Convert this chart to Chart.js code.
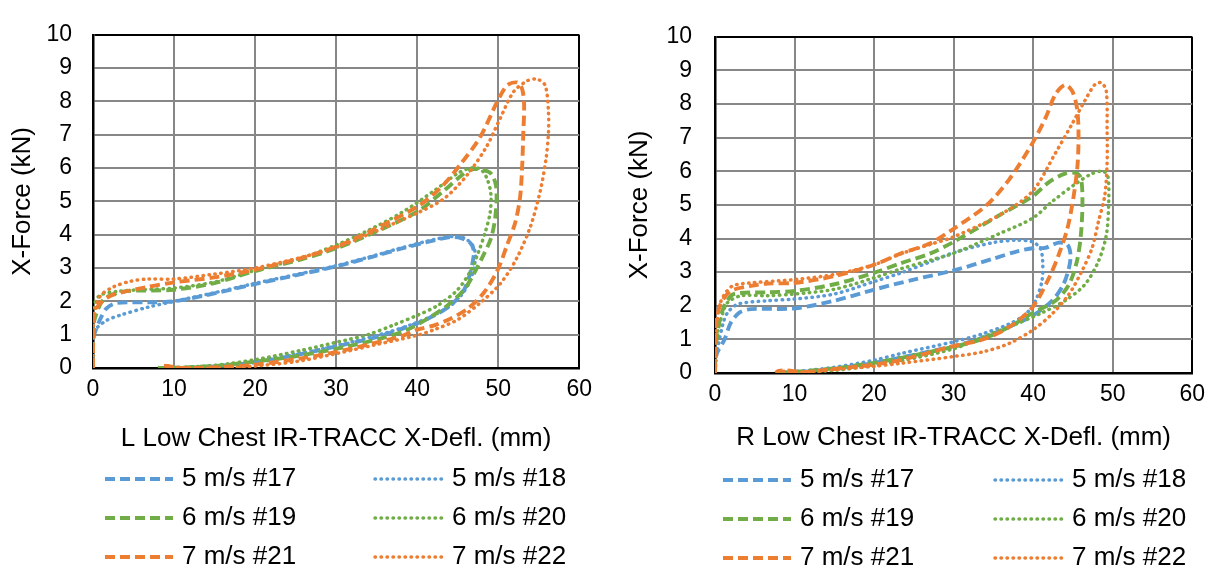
<!DOCTYPE html>
<html>
<head>
<meta charset="utf-8">
<script src="https://cdn.jsdelivr.net/npm/chart.js@4/dist/chart.umd.min.js"></script>
<style>
  html, body { margin: 0; padding: 0; background: #fff; }
  #wrap { position: relative; width: 1213px; height: 569px; overflow: hidden; }
  canvas { position: absolute; top: 0; }
  #cL { left: 0; }
  #cR { left: 600px; }
</style>
</head>
<body>
<div id="wrap">
  <canvas id="cL" width="600" height="569"></canvas>
  <canvas id="cR" width="613" height="569"></canvas>
</div>
<script>
// Test labels (legend order) and axis labels
const seriesLabels = ['5 m/s #17', '5 m/s #18', '6 m/s #19', '6 m/s #20', '7 m/s #21', '7 m/s #22'];
const xTitleL = 'L Low Chest IR-TRACC X-Defl. (mm)';
const xTitleR = 'R Low Chest IR-TRACC X-Defl. (mm)';
const yTitle = 'X-Force (kN)';
const xRange = [0, 60, 10];
const yRange = [0, 10, 1];

// Left lower chest: [deflection mm, force kN], loading then unloading
const L17 = [[0,0],[0,0.5],[0.1,0.95],[0.9,1.47],[1.7,1.8],[2.9,1.95],[6.7,1.97],[10,2.0],[15,2.24],[20,2.52],[25,2.78],[30,3.05],[33.9,3.3],[38,3.58],[42.1,3.83],[44.1,3.93],[45.4,3.9],[46.6,3.74],[47,3.5],[46.8,3.11],[46.4,2.73],[45.8,2.35],[44.5,1.96],[42.9,1.68],[40.5,1.39],[37.2,1.1],[33.9,0.86],[30,0.65],[25.7,0.42],[20,0.17],[15,0.05],[11,0],[9.5,0]];
const L18 = [[0,0],[0,0.6],[0.3,1.14],[1.7,1.43],[3.3,1.58],[6.7,1.82],[10,2.0],[15,2.26],[20,2.54],[25,2.8],[30,3.07],[33.9,3.32],[38,3.6],[42,3.85],[44.5,3.95],[45.8,3.9],[46.8,3.7],[47.2,3.4],[47,3.0],[46.5,2.6],[45.5,2.2],[44,1.85],[42,1.58],[39.5,1.32],[36.5,1.08],[33,0.85],[30,0.67],[25.7,0.45],[20,0.2],[15,0.06],[10.5,0],[9,0]];
const L19 = [[0,0],[0,0.8],[0.1,1.37],[1.3,2.05],[3.7,2.29],[10,2.35],[15,2.55],[20,2.91],[25.7,3.26],[30,3.59],[33.9,3.98],[40,4.69],[43.3,5.32],[45.8,5.84],[47,5.97],[48.2,5.94],[49.1,5.84],[49.7,5.51],[49.8,5.03],[49.6,4.45],[49.1,3.88],[48,3.3],[47,2.83],[45.8,2.35],[43.7,1.87],[41.3,1.48],[38.8,1.15],[35.9,0.91],[31.8,0.67],[25.7,0.38],[20,0.19],[15,0.06],[10,0.01],[8,0]];
const L20 = [[0,0],[0,1.0],[0.3,2.0],[1,2.2],[3,2.3],[6,2.35],[10,2.4],[15,2.58],[20,2.93],[25.7,3.3],[30,3.69],[33.9,4.12],[38,4.65],[42.1,5.32],[45,5.84],[46.6,6.0],[47.8,5.97],[48.6,5.7],[49.1,5.22],[49,4.65],[48.4,4.07],[47.6,3.5],[46.6,2.92],[45,2.35],[42.5,1.87],[40,1.58],[37.1,1.29],[33.9,1.0],[30,0.77],[25.7,0.53],[20,0.25],[15,0.08],[10,0.01],[7.8,0]];
const L21 = [[0,0],[0,1.0],[0.1,1.6],[0.9,1.95],[2.5,2.2],[6.7,2.43],[10,2.57],[15,2.72],[20,2.95],[25.7,3.3],[30,3.64],[33.9,4.07],[40,4.84],[42.9,5.41],[45.4,6.13],[47.8,6.94],[49.9,8.0],[51.1,8.48],[52.3,8.57],[52.95,8.38],[53.2,7.9],[53.1,7.04],[52.95,5.99],[52.7,5.12],[52.1,4.36],[51.1,3.69],[49.9,2.92],[48.2,2.25],[46.2,1.77],[44.1,1.48],[42.1,1.28],[40,1.15],[38,0.95],[33.9,0.7],[30,0.48],[25.7,0.29],[20,0.1],[15,0.02],[11,0],[9.5,0.05],[8.6,0.07],[8.3,0]];
const L22 = [[0,0],[0,0.9],[0.1,1.5],[0.87,2.15],[2.5,2.43],[4.6,2.6],[6.7,2.67],[10,2.67],[15,2.82],[20,3.0],[25.7,3.32],[30,3.62],[33.9,4.0],[40,4.65],[43.3,5.08],[46.2,5.8],[48.6,6.66],[50.3,7.52],[51.9,8.29],[53.6,8.62],[54.8,8.67],[55.8,8.48],[56.2,7.71],[56.2,7.04],[55.9,6.27],[55.2,5.32],[54,4.26],[52.3,3.3],[50.3,2.54],[47.8,1.96],[45,1.45],[42.1,1.15],[40,0.98],[34.9,0.7],[30,0.43],[25,0.19],[20,0.06],[16,0],[10,0.02],[9,0.06],[8.5,0]];

// Right lower chest
const R17 = [[0,0],[0.1,0.5],[1.2,1.0],[2,1.5],[3.1,1.8],[4.5,1.9],[10,1.92],[15,2.15],[20,2.48],[25,2.78],[30,3.05],[35,3.4],[38,3.62],[40.2,3.72],[41.5,3.72],[43.2,3.88],[44.3,3.82],[44.7,3.51],[44.5,3.12],[43.8,2.63],[42.4,2.15],[39.9,1.7],[37,1.38],[33.7,1.05],[30,0.8],[23.4,0.46],[20,0.3],[15,0.12],[10,0.02],[8,0]];
const R18 = [[0,0],[0.1,0.3],[0.3,0.68],[1,1.46],[1.6,1.8],[2.9,2.05],[6.6,2.15],[10,2.2],[15,2.35],[20,2.72],[23.4,2.98],[27,3.3],[30,3.58],[35,3.88],[37.9,3.95],[39.9,3.9],[40.9,3.71],[41.2,3.32],[41.1,2.73],[40.3,2.15],[39.1,1.76],[37,1.46],[33.7,1.17],[30,0.93],[23.4,0.58],[20,0.38],[15,0.17],[10,0.04],[7.5,0]];
const R19 = [[0,0],[0.1,0.79],[0.7,1.67],[1.4,2.1],[2.4,2.35],[6.6,2.4],[10,2.44],[15,2.64],[20,2.98],[23.4,3.27],[27,3.55],[30,3.9],[35.8,4.7],[39.9,5.25],[42,5.68],[44,5.93],[45.3,5.95],[46,5.8],[46.2,5.07],[46,4.1],[45.5,3.32],[44.5,2.63],[42.8,2.15],[39.9,1.78],[37,1.37],[33.7,1.02],[30,0.78],[23.4,0.45],[20,0.3],[15,0.14],[10,0.03],[7.5,0]];
const R20 = [[0,0],[0.3,1.17],[1,1.8],[1.6,2.1],[3.3,2.3],[6.6,2.3],[10,2.35],[15,2.49],[20,2.83],[23.4,3.1],[27,3.35],[30,3.56],[35.8,4.15],[39.9,4.6],[42.4,5.1],[45.3,5.62],[47.4,5.93],[48.8,6.0],[49.4,5.85],[49.5,5.07],[49.2,4.1],[48.2,3.32],[46.5,2.63],[44,2.15],[41.2,1.8],[37.9,1.46],[33.7,1.07],[30,0.72],[23.4,0.36],[20,0.22],[15,0.08],[10,0.01],[8,0]];
const R21 = [[0,0],[0.1,1.36],[0.7,2.05],[2,2.44],[4.5,2.59],[6.6,2.66],[10,2.68],[15,2.88],[20,3.22],[23.4,3.56],[27,3.85],[30,4.29],[34.1,4.98],[37,5.76],[39.9,6.83],[41.6,7.61],[42.8,8.29],[44,8.57],[44.9,8.39],[45.5,7.9],[45.7,7.22],[45.6,6.24],[45.1,5.27],[44.3,4.29],[43.2,3.51],[42,2.83],[39.9,1.95],[37,1.37],[33.7,1.0],[30,0.8],[23.4,0.39],[20,0.25],[15,0.12],[11,0.03],[9,0.08],[8,0.06],[7.6,0]];
const R22 = [[0,0],[0.1,0.97],[0.5,1.95],[1.1,2.3],[2.2,2.59],[4.5,2.68],[10,2.78],[15,2.93],[20,3.22],[23.4,3.55],[27,3.82],[30,4.05],[35.8,4.7],[39.9,5.4],[42.8,6.54],[44.9,7.41],[46.5,8.1],[47.8,8.59],[48.6,8.63],[49.2,8.39],[49.3,7.22],[49.3,6.24],[49,5.27],[48.2,4.49],[47.4,3.71],[46.1,3.02],[44.5,2.34],[42.4,1.76],[39.9,1.27],[37,0.88],[33.7,0.63],[30,0.49],[23.4,0.29],[20,0.2],[15,0.1],[11,0.03],[8.5,0.05],[8,0]];

const seriesL = [L17, L18, L19, L20, L21, L22];
const seriesR = [R17, R18, R19, R20, R21, R22];

// Styling
const FONT = '"Liberation Sans", Arial, sans-serif';
const BLUE = '#5B9BD5', GREEN = '#70AD47', ORANGE = '#ED7D31';
const seriesColors = [BLUE, BLUE, GREEN, GREEN, ORANGE, ORANGE];
const DASHED = { borderDash: [10, 5], borderCapStyle: 'butt', borderWidth: 3.9 };
const DOTTED = { borderDash: [0.5, 5.5], borderCapStyle: 'round', borderWidth: 3.5 };

Chart.defaults.color = '#000';
Chart.defaults.font.family = FONT;

// Two-column legend grid drawn under the plot
const legendGrid = {
  id: 'legendGrid',
  afterDraw(chart, args, opts) {
    const ctx = chart.ctx;
    ctx.save();
    ctx.font = opts.fontSize + 'px ' + FONT;
    ctx.textBaseline = 'middle';
    ctx.textAlign = 'left';
    chart.data.datasets.forEach((ds, i) => {
      const x = opts.cols[i % 2];
      const y = opts.top + Math.floor(i / 2) * opts.rowGap;
      ctx.strokeStyle = ds.borderColor;
      ctx.lineWidth = ds.borderWidth;
      ctx.lineCap = ds.borderCapStyle;
      ctx.setLineDash(ds.borderDash);
      ctx.beginPath();
      ctx.moveTo(x, y);
      ctx.lineTo(x + opts.lineLen, y);
      ctx.stroke();
      ctx.setLineDash([]);
      ctx.fillStyle = '#000';
      ctx.fillText(ds.label, x + opts.lineLen + opts.gap, y);
    });
    ctx.restore();
  }
};

function buildDatasets(series) {
  return series.map((pts, i) => Object.assign({
    label: seriesLabels[i],
    data: pts.map(p => ({ x: p[0], y: p[1] })),
    showLine: true,
    borderColor: seriesColors[i],
    backgroundColor: seriesColors[i],
    pointRadius: 0,
    pointHoverRadius: 0,
    tension: 0.3,
    fill: false,
    order: series.length - i
  }, i % 2 === 0 ? DASHED : DOTTED));
}

function gridColor(edge) {
  return ctx => (ctx.tick && ctx.tick.value === edge ? '#000' : '#878787');
}

function makeChart(id, series, L) {
  return new Chart(document.getElementById(id), {
    type: 'scatter',
    data: { datasets: buildDatasets(series) },
    plugins: [legendGrid],
    options: {
      responsive: false,
      animation: false,
      devicePixelRatio: 1,
      layout: { autoPadding: false, padding: { left: 0, top: L.top, right: L.right, bottom: L.bottom } },
      plugins: {
        legend: { display: false },
        tooltip: { enabled: false },
        legendGrid: L.legend
      },
      scales: {
        x: {
          type: 'linear',
          min: xRange[0], max: xRange[1],
          ticks: { stepSize: xRange[2], padding: 8, font: { size: 23 }, color: '#000', maxRotation: 0 },
          grid: { color: gridColor(xRange[1]), lineWidth: 2, drawTicks: false },
          border: { color: '#000', width: 2.5 },
          title: { display: true, text: L.xTitle, font: { size: 26 }, color: '#000', padding: { top: 0, bottom: 0 } },
          afterFit: s => { s.height = L.xHeight; }
        },
        y: {
          type: 'linear',
          min: yRange[0], max: yRange[1],
          ticks: { stepSize: yRange[2], padding: L.yTickPad, font: { size: 23 }, color: '#000' },
          grid: { color: gridColor(yRange[1]), lineWidth: 2, drawTicks: false },
          border: { color: '#000', width: 2.5 },
          title: { display: true, text: yTitle, font: { size: 26 }, color: '#000', padding: { top: L.yTitlePad, bottom: 0 } },
          afterFit: s => { s.width = L.yWidth; }
        }
      }
    }
  });
}

makeChart('cL', seriesL, {
  top: 20, right: 19, bottom: 115, xHeight: 86, yWidth: 93, yTickPad: 21, yTitlePad: 7,
  xTitle: xTitleL,
  legend: { cols: [105, 375], top: 479, rowGap: 39, lineLen: 68, gap: 9, fontSize: 26 }
});
makeChart('cR', seriesR, {
  top: 32, right: 17, bottom: 116, xHeight: 80, yWidth: 115, yTickPad: 23, yTitlePad: 24,
  xTitle: xTitleR,
  legend: { cols: [123, 395], top: 480, rowGap: 39, lineLen: 68, gap: 9, fontSize: 26 }
});
</script>
</body>
</html>
